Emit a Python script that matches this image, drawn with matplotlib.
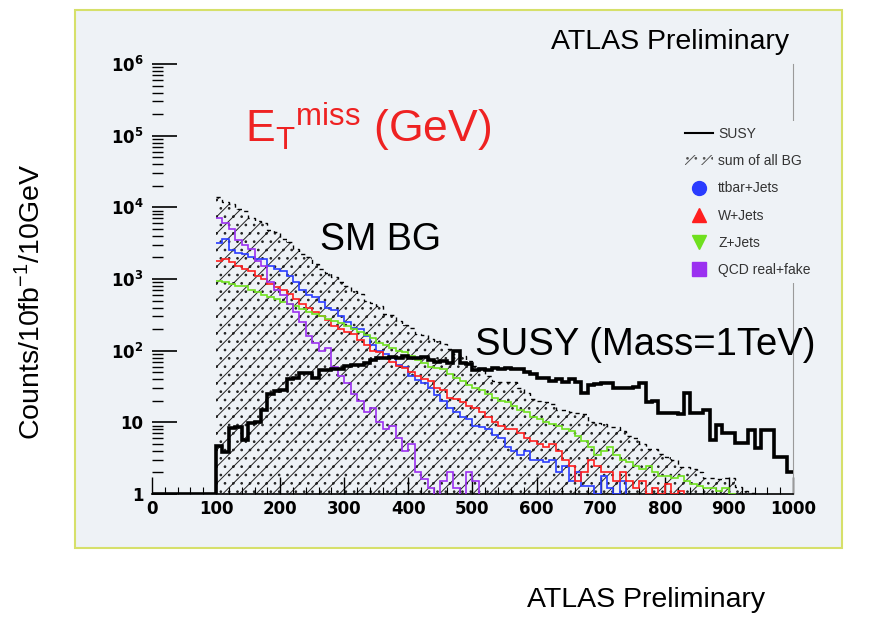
import numpy as np
import matplotlib
matplotlib.use("Agg")
import matplotlib.pyplot as plt
from matplotlib.lines import Line2D
from matplotlib.patches import Patch, Rectangle
from matplotlib.ticker import FixedLocator, FuncFormatter, MultipleLocator

plt.rcParams['font.family'] = ['Liberation Sans', 'DejaVu Sans']
plt.rcParams['mathtext.fontset'] = 'custom'
plt.rcParams['mathtext.rm'] = 'Liberation Sans'
plt.rcParams['hatch.linewidth'] = 0.7

# 10 GeV bins of missing ET
edges_all = np.arange(0, 1001, 10)
edges = np.arange(100, 1001, 10)

# SUSY signal (Mass = 1 TeV), counts per bin from 0 GeV
susy = [0, 0, 0, 0, 0, 0, 0, 0, 0, 0,
        4.7, 3.8, 8.3, 8.7, 5.7, 9.8, 10, 15, 25, 27,
        28, 40, 41, 49, 49, 42, 54, 54, 55, 55,
        61, 64, 64, 67, 75, 80, 80, 82, 80, 84,
        80, 78, 82, 74, 70, 72, 68, 100, 68, 66,
        54, 55, 54, 57, 56, 58, 56, 55, 50, 48,
        42, 41, 38, 40, 36, 40, 37, 26, 33, 34,
        35, 35, 30, 30, 30, 31, 35, 19, 20, 13.5,
        13.5, 13.5, 13, 26, 13.5, 13.5, 15, 5.7, 9.2, 7.1,
        7.1, 5.2, 5.2, 7.9, 4.4, 7.9, 7.9, 3.3, 3.3, 2.0]

# backgrounds, counts per bin from 100 GeV
bg_sum = [14000, 12000, 11000, 9500, 9000, 7000, 6500, 6000, 4800, 4500,
          3600, 3300, 2600, 2200, 2000, 1600, 1400, 1200, 1050, 900,
          800, 680, 620, 500, 470, 420, 330, 310, 260, 230,
          210, 170, 165, 145, 135, 125, 105, 90, 85, 72,
          62, 55, 45, 38, 37, 36, 36, 30, 26, 21,
          20, 19, 18, 15, 15, 14, 13.6, 13, 10, 9.8,
          9.5, 8.6, 8.6, 7.5, 6.5, 6, 5, 4.2, 4.2, 3.6,
          3.3, 3.0, 2.4, 2.4, 2.2, 2.0, 1.7, 1.7, 1.6, 1.7,
          1.7, 1.25, 1.1, 1.05, 0, 0, 0, 0, 0, 0]

ttbar = [3200, 3600, 2500, 2300, 2200, 2000, 1900, 1900, 1500, 1400,
         1300, 1100, 900, 700, 600, 560, 480, 400, 370, 300,
         250, 210, 200, 160, 120, 100, 90, 80, 64, 60,
         45, 39, 35, 30, 24, 20, 16, 14, 12, 11,
         9, 8.6, 8, 6.7, 6, 4.5, 4, 3.5, 4, 3,
         3, 2.8, 3, 2, 2.5, 1.5, 2, 1.3, 1.3, 1,
         1.8, 1.2, 1, 1.5] + [0] * 26

wjets = [1800, 1900, 1700, 1500, 1400, 1300, 1100, 1000, 850, 780,
         700, 620, 520, 450, 400, 350, 300, 270, 220, 200,
         180, 170, 140, 120, 100, 95, 80, 70, 62, 58,
         50, 44, 40, 38, 30, 28, 22, 21, 19, 17,
         16, 14, 12, 10, 9, 8, 8, 7, 6, 5.5,
         5, 4.5, 5, 4, 3, 2.5, 1.5, 2, 3, 2.5,
         2, 2, 1.5, 2, 1.5, 1.2, 1.5, 1, 1.2, 1,
         1.4, 1, 1.1] + [0] * 17

zjets = [950, 900, 850, 800, 800, 700, 650, 600, 560, 520,
         480, 450, 420, 380, 350, 320, 300, 280, 260, 240,
         220, 200, 180, 165, 150, 130, 120, 110, 100, 95,
         85, 75, 68, 60, 58, 55, 48, 42, 38, 33,
         30, 28, 25, 22, 20, 19, 17, 15, 14, 12,
         11, 10, 9.5, 9, 8, 7.5, 6.5, 5.5, 4.5, 3.5,
         4, 4.5, 3.5, 3, 2.8, 2.5, 2.2, 2.5, 2, 1.8,
         1.8, 1.7, 1.8, 1.5, 1.4, 1.3, 1.2, 1.2, 1.1, 1.2,
         1.0] + [0] * 9

qcd = [7000, 6000, 5000, 3500, 3000, 2600, 1800, 1500, 900, 700,
       600, 450, 350, 250, 160, 130, 100, 110, 60, 45,
       35, 25, 20, 14, 16, 10, 8, 9, 6, 4,
       5, 2, 1.6, 1.2, 0, 1.5, 2, 1.2, 0, 2,
       1.5] + [0] * 49

components = [
    ("ttbar+Jets", ttbar, "#2a3cff", "o"),
    ("W+Jets", wjets, "#ff1f1f", "^"),
    ("Z+Jets", zjets, "#6fe01e", "v"),
    ("QCD real+fake", qcd, "#9b30f0", "s"),
]

panel = "#eef2f6"
fig = plt.figure(figsize=(8.71, 6.19), dpi=100)
fig.patch.set_facecolor("white")
fig.add_artist(Rectangle((0.0861, 0.1147), 0.8806, 0.8691, transform=fig.transFigure,
                         facecolor=panel, edgecolor="#d6e06a", linewidth=1.5, zorder=0))

ax = fig.add_axes([0.1745, 0.2019, 0.7359, 0.6947])
ax.set_facecolor("none")
ax.set_yscale("log")

# summed background: hatched area with dashed outline
ax.stairs(bg_sum, edges, fill=True, baseline=1e-3, facecolor="none",
          edgecolor="#222222", linewidth=0, hatch="//..", zorder=1)
ax.stairs(bg_sum, edges, baseline=None, color="black", linewidth=1.0,
          linestyle=(0, (3, 3)), zorder=2)

for name, vals, col, mk in components:
    ax.stairs(vals, edges, baseline=None, color=col, linewidth=1.2, zorder=3)

ax.stairs(np.clip(susy, 1, None), edges_all, baseline=None, color="black",
          linewidth=2.6, zorder=4)

ax.set_xlim(0, 1000)
ax.set_ylim(1, 1e6)

for s in ["left", "top"]:
    ax.spines[s].set_visible(False)
ax.spines["right"].set_color("#9a9a9a")
ax.spines["right"].set_linewidth(0.8)
ax.spines["bottom"].set_linewidth(1.2)

ax.xaxis.set_major_locator(MultipleLocator(100))
ax.xaxis.set_minor_locator(MultipleLocator(20))
ax.yaxis.set_major_locator(FixedLocator([10.0 ** k for k in range(7)]))
ax.yaxis.set_minor_locator(FixedLocator([m * 10.0 ** k for k in range(6) for m in range(2, 10)]))


def ylab(v, pos):
    k = int(round(np.log10(v)))
    if k == 0:
        return "1"
    if k == 1:
        return "10"
    return r"$\mathbf{10^{%d}}$" % k


ax.yaxis.set_major_formatter(FuncFormatter(ylab))
ax.tick_params(axis="y", which="major", direction="in", length=18, width=1.2,
               labelsize=12, pad=6)
ax.tick_params(axis="y", which="minor", direction="in", length=8, width=1.0)
ax.tick_params(axis="x", which="major", direction="in", length=12, width=1.0,
               labelsize=12, pad=4)
ax.tick_params(axis="x", which="minor", direction="in", length=5, width=0.8)
ax.tick_params(right=False, which="both")
for lab in ax.get_xticklabels() + ax.get_yticklabels():
    lab.set_fontweight("bold")
    lab.set_family("DejaVu Sans")

# annotations
fig.text(0.281, 0.77, r"$\mathrm{E_T{}^{miss}}$ (GeV)", color="#ee2222", fontsize=32)
fig.text(0.367, 0.612, "SM BG", fontsize=27, va="center")
fig.text(0.545, 0.443, "SUSY (Mass=1TeV)", fontsize=27.5, va="center")
fig.text(0.769, 0.932, "ATLAS Preliminary", fontsize=20.5, ha="center", va="center")
fig.text(0.742, 0.031, "ATLAS Preliminary", fontsize=20.5, ha="center", va="center")
fig.text(0.035, 0.512, r"Counts/10fb$^{-1}$/10GeV", fontsize=20.5, rotation=90,
         ha="center", va="center")

handles = [Line2D([], [], color="black", linewidth=1.5),
           Patch(facecolor="none", edgecolor="#555555", hatch="//..", linewidth=0)]
labels = ["SUSY", "sum of all BG"]
for name, vals, col, mk in components:
    handles.append(Line2D([], [], linestyle="none", marker=mk, markersize=10,
                          color=col, markeredgecolor=col))
    labels.append(name)

leg = fig.legend(handles, labels, loc="upper left", bbox_to_anchor=(0.772, 0.815),
                 fontsize=10, frameon=True, facecolor=panel, edgecolor="none",
                 framealpha=1, labelspacing=0.95, handlelength=2.0,
                 handletextpad=0.4, borderpad=0.4)
for t in leg.get_texts():
    t.set_color("#333333")

fig.savefig("out.png", dpi=100, facecolor="white")
